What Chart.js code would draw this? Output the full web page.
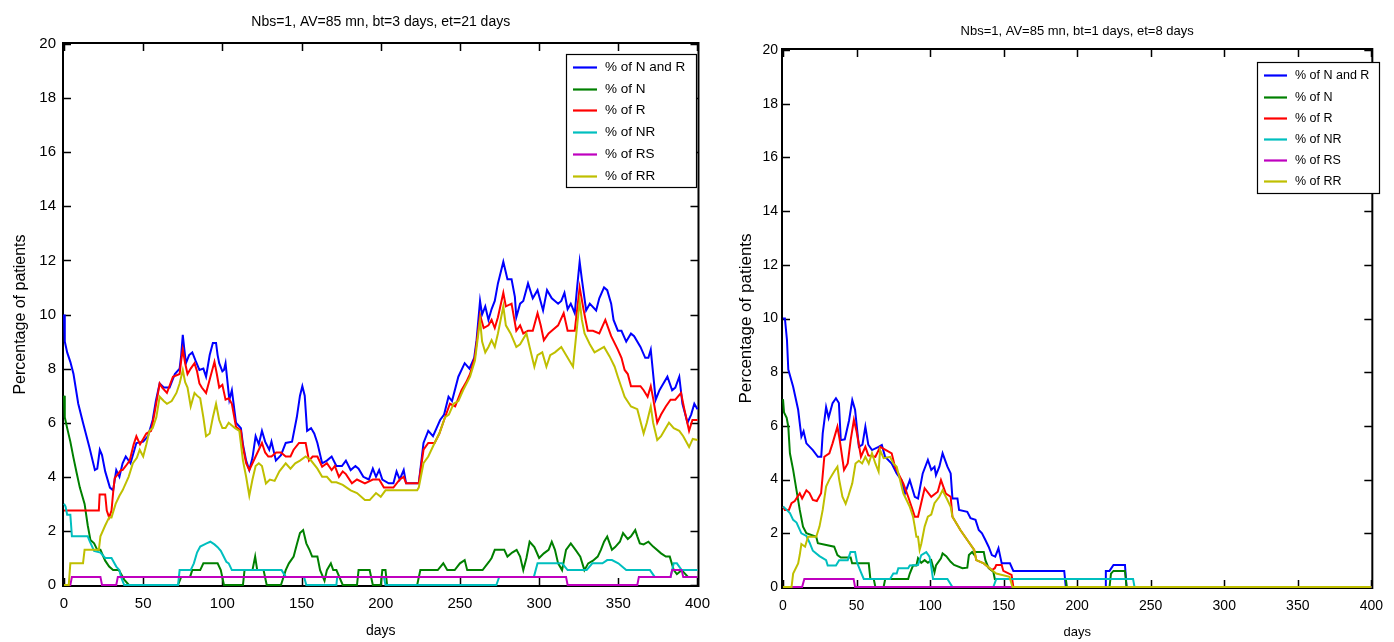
<!DOCTYPE html>
<html><head><meta charset="utf-8">
<script src="https://cdn.jsdelivr.net/npm/chart.js@4.4.1/dist/chart.umd.min.js"></script>
<style>
html,body{margin:0;padding:0;background:#fff;width:1394px;height:642px;overflow:hidden}
#c1{position:absolute;left:0;top:0}
#c2{position:absolute;left:720px;top:0}
</style></head><body>
<canvas id="c1" width="720" height="642"></canvas>
<canvas id="c2" width="674" height="642"></canvas>
<script>
// ---------- labels ----------
const seriesLabels = ['% of N and R', '% of N', '% of R', '% of NR', '% of RS', '% of RR'];
const seriesColors = ['#0000ff', '#008000', '#ff0000', '#00bfbf', '#bf00bf', '#bfbf00'];
const titleLeft = 'Nbs=1, AV=85 mn, bt=3 days, et=21 days';
const titleRight = 'Nbs=1, AV=85 mn, bt=1 days, et=8 days';
const xLabel = 'days';
const yLabel = 'Percentage of patients';
const xTicks = [0, 50, 100, 150, 200, 250, 300, 350, 400];
const yTicks = [0, 2, 4, 6, 8, 10, 12, 14, 16, 18, 20];

// ---------- left chart data: [day, percent] ----------
const leftNandR = [[0,10],[0.5,9],[2,8.6],[4,8.25],[6,7.8],[9,6.7],[12,6.0],[16,5.1],[19.5,4.25],[21,4.3],[22.6,5.0],[24,4.8],[26,4.2],[29,3.6],[31,3.5],[33,4.25],[35,4.0],[37,4.5],[39,4.75],[42,4.5],[45.7,5.25],[50,5.3],[53,5.5],[56,6.1],[58,6.8],[60.4,7.45],[63,7.3],[66.7,7.3],[70,7.8],[73,8.0],[74,8.5],[75,9.25],[76,8.7],[77,8.2],[79,8.5],[81,8.6],[83,8.3],[85.5,7.95],[88,8.0],[89.7,7.7],[92,8.5],[94,8.95],[96,8.95],[97,8.5],[98,8.2],[100,7.9],[101,7.95],[102,8.2],[104.4,6.85],[106,7.2],[108.6,6.0],[111.7,5.8],[113,5.2],[115,4.6],[117,4.25],[119,4.7],[121,5.5],[123,5.2],[125,5.7],[127,5.3],[129.6,5.0],[131,5.3],[133.8,4.6],[137,4.8],[140,5.25],[144,5.3],[147,6.2],[149,7.0],[150.5,7.35],[152,7.0],[153.5,5.7],[156,5.8],[158,5.6],[160,5.25],[163,4.5],[166,4.6],[169,4.75],[172,4.4],[175.5,4.4],[178,4.6],[181,4.25],[184,4.4],[186,4.3],[189,4.0],[192.5,3.9],[195,4.3],[197,4.0],[199,4.25],[201,3.9],[205,3.76],[208,3.76],[210,4.2],[212,3.9],[214.5,4.25],[216,3.76],[224,3.76],[227,5.25],[230,5.7],[233,5.5],[237.5,6.1],[240,6.3],[242.8,6.96],[245,6.8],[249,7.7],[253,8.2],[256,8.0],[259,8.4],[260.5,9.05],[262.7,10.5],[264,10.0],[266,10.3],[268,9.8],[270,10.2],[272,10.5],[274,11.15],[277.4,11.95],[280,11.3],[282.6,11.3],[284.7,10.65],[285.6,9.9],[288,10.4],[290,10.5],[293,11.15],[296,10.6],[299,10.9],[302.5,10.15],[305,10.9],[308,10.6],[310,10.5],[312,10.4],[314,10.5],[316,10.8],[318,10.2],[320,10.4],[322.5,10.05],[324,11.0],[325.6,11.95],[327,11.3],[329.7,10.15],[332,10.4],[336,10.15],[338,10.6],[341,11.0],[343,10.9],[345.5,10.4],[347,9.8],[349.7,9.4],[352,9.4],[355,9.0],[358,9.3],[360,9.2],[364,8.8],[367,8.4],[369,8.4],[370.5,8.7],[373.6,6.85],[376,7.2],[378,7.4],[381,7.7],[384,7.2],[386,7.3],[388.5,7.7],[390.5,6.7],[393.7,6.0],[396,6.3],[398,6.7],[400,6.5]];
const leftN = [[0,7],[0.5,6.2],[2,5.8],[4,5.3],[6,4.7],[8,4.14],[10,3.6],[13,3.0],[15,2.2],[16.7,1.66],[19,1.54],[21,1.3],[23,1.3],[26,0.9],[28.5,0.68],[31,0.55],[34.6,0.55],[38,0.2],[41,0],[72,0],[74,0.3],[79.6,0.3],[81,0.55],[86,0.55],[88,0.8],[92.4,0.8],[97,0.8],[99,0.55],[101,0],[113,0],[114,0.55],[119,0.55],[120.7,1.05],[122,0.55],[126,0.55],[128,0],[137,0],[140,0.55],[142,0.8],[145,1.05],[147,1.5],[149,1.92],[151,2.03],[153,1.54],[155,1.3],[156.7,1.05],[160,1.05],[161.7,0.55],[164.5,0.16],[166,0.55],[168.5,0.8],[170,0.55],[172,0.55],[176,0],[185,0],[186,0.55],[193,0.55],[195,0],[200,0],[201,0.55],[203,0.55],[204,0],[223,0],[225,0.55],[236,0.55],[239.5,0.8],[242,0.55],[246.7,0.55],[250,0.8],[253,0.92],[254.6,0.55],[264.3,0.55],[268.4,0.86],[270,1.0],[272,1.3],[278,1.3],[280,1.05],[283,1.2],[285.8,1.3],[288,1.05],[290,0.55],[292,1.0],[294,1.6],[297,1.4],[300,1.0],[303,1.17],[306,1.3],[308,1.6],[310,1.3],[312,0.8],[314.5,0.55],[317,1.3],[320,1.54],[323,1.3],[326,1.05],[328.6,0.55],[331,0.8],[334,0.9],[337,1.05],[339,1.3],[341,1.6],[343,1.79],[346,1.3],[348,1.4],[351,1.6],[353,1.92],[356,1.7],[358,1.8],[360.7,2.03],[362,1.8],[363.6,1.54],[366,1.5],[369,1.6],[372,1.42],[377,1.17],[380,1.05],[382.5,1.05],[385,0.55],[387,0.4],[390,0.55],[394,0.3],[400,0.3]];
const leftR = [[0,2.75],[12,2.75],[22,2.75],[22.5,3.35],[26,3.35],[27,2.75],[28.5,2.5],[30,2.75],[31,3.4],[32,3.95],[34,4.1],[36,4.25],[37,4.25],[39,4.4],[41.5,4.6],[44,5.2],[45.7,5.5],[48,5.2],[50,5.4],[52,5.6],[55,5.7],[57,6.3],[60.4,7.45],[62,7.3],[65,7.1],[68.8,7.7],[73,7.8],[74,8.3],[75,8.7],[76.5,8.2],[78,7.8],[80,8.0],[82.4,8.2],[84,7.9],[85.5,7.45],[87,7.3],[89.7,7.1],[92,7.6],[95,8.25],[96.5,7.8],[98,7.3],[100,7.4],[102,6.85],[104,6.9],[106,6.7],[108.6,5.85],[111.7,5.7],[113,5.1],[115,4.5],[117,4.25],[119,4.5],[121,4.75],[123,5.0],[125,5.25],[127,4.9],[129,4.75],[131,4.75],[134,4.9],[137,4.9],[140,4.75],[143,4.75],[145,5.0],[148.4,5.25],[152.6,5.25],[154.7,4.6],[157,4.75],[160,4.75],[163,4.37],[166,4.5],[169,4.25],[171,4.4],[173.6,4.0],[176,4.2],[178,4.1],[181.8,3.76],[185,3.9],[190,3.76],[195,3.9],[199,3.9],[202,3.6],[208,3.6],[212,3.9],[214.5,4.0],[216,3.76],[224,3.76],[227,5.0],[230,5.25],[234,5.25],[237,5.6],[240.6,6.2],[243.7,6.7],[247,6.6],[251,7.2],[254,7.5],[256.4,7.8],[259.5,8.45],[262.7,9.98],[265,9.5],[268,9.6],[270,9.8],[272,9.5],[274,9.9],[277.4,10.8],[279,10.3],[282.6,10.4],[285.6,9.4],[288,9.6],[290,9.3],[293,9.4],[296,9.4],[299,10.05],[301,9.6],[303,9.05],[306,9.3],[308,9.4],[312,9.6],[315.5,10.05],[318,9.4],[322.5,9.4],[325.6,11.0],[328,10.2],[330.7,9.4],[334,9.4],[338,9.3],[341.8,9.8],[345.5,9.2],[349.7,8.7],[352,8.4],[354,7.95],[356,7.8],[358,7.35],[364,7.35],[366,7.2],[368.5,6.96],[370.5,7.35],[372,6.9],[374.6,6.0],[377,6.3],[380,6.6],[383,6.85],[386,6.85],[389.6,7.1],[391.7,6.5],[394.7,5.7],[396.8,6.1],[400,6.1]];
const leftNR = [[0,3],[1,2.9],[2,2.6],[4,2.6],[5,1.8],[15,1.8],[16,1.65],[19,1.26],[23,1.2],[26,1.0],[30,1.0],[33,0.68],[35,0.55],[36,0.3],[38,0],[72,0],[73,0.55],[80,0.55],[82,0.8],[84,1.2],[86,1.42],[90,1.54],[92.4,1.6],[95,1.5],[97,1.4],[99,1.26],[102.5,0.86],[104,0.8],[106,0.55],[137.4,0.55],[140,0.3],[151.6,0.3],[153,0],[172,0],[172.5,0.3],[202,0.3],[203,0],[273,0],[274.8,0.3],[296.7,0.3],[299,0.8],[314.5,0.8],[318,0.55],[330,0.55],[333.6,0.8],[340,0.8],[343,0.92],[346,0.92],[350,0.8],[355,0.55],[370,0.55],[373,0.3],[383,0.3],[385,0.8],[387,0.8],[390,0.55],[400,0.55]];
const leftRS = [[0,0],[4,0],[5,0.3],[23,0.3],[24,0],[33,0],[34,0.3],[317,0.3],[318,0],[362,0],[363,0.3],[383,0.3],[384,0.55],[390,0.55],[391,0.3],[400,0.3]];
const leftRR = [[0,0],[3,0],[4,0.8],[12,0.8],[13,1.3],[22,1.3],[23,1.8],[26,2.2],[28.5,2.5],[30,2.5],[32.6,3.0],[35,3.3],[37,3.5],[40.8,4.0],[43.5,4.5],[46,4.7],[47.8,5.0],[50,4.75],[52,5.2],[54,5.7],[56,5.8],[58.3,6.2],[60.4,6.96],[63,6.8],[65,6.7],[68,6.8],[71,7.1],[73,7.45],[75,7.95],[76.5,7.5],[78,7.3],[80,6.6],[82.4,7.1],[84,7.0],[86,6.9],[88,6.2],[89.7,5.5],[92,5.6],[94,6.2],[96,6.7],[98,6.1],[100,5.8],[102,5.8],[104,6.0],[106,5.9],[108,5.8],[110.7,5.7],[113,4.6],[115,4.0],[117,3.3],[119,3.9],[121,4.4],[123,4.5],[125,4.4],[127.5,3.75],[130,3.9],[133,3.85],[136,4.2],[140,4.5],[143,4.3],[146,4.5],[149,4.6],[152.6,4.75],[156,4.6],[160,4.3],[163,4.0],[166,4.0],[169,3.8],[172,3.8],[176,3.7],[181,3.5],[185,3.4],[190,3.14],[193,3.14],[197,3.4],[200,3.26],[203,3.5],[223,3.5],[224,3.6],[227,4.5],[230,4.75],[234,5.25],[237,5.6],[240.6,6.2],[243,6.3],[246,6.7],[249,6.8],[252,7.2],[256.4,7.7],[259.5,8.3],[262.7,9.8],[264,9.0],[266,8.6],[268,8.8],[270,9.05],[272,8.8],[274,9.3],[277.4,10.3],[279,9.6],[282,9.3],[285.6,8.8],[288,8.9],[292,9.3],[294,8.8],[297,8.07],[299,8.5],[302,8.6],[304.6,8.07],[307,8.5],[310,8.6],[314,8.8],[317,8.5],[321.4,8.07],[323,9.0],[325.6,10.5],[327,9.8],[328.7,9.3],[332,8.9],[335,8.6],[338,8.7],[341,8.8],[344.5,8.45],[347.7,8.07],[349.7,7.7],[352,7.3],[354,6.96],[358,6.6],[362,6.5],[366,5.6],[368,6.0],[370.5,6.6],[372,6.0],[374.6,5.36],[377,5.5],[380,5.8],[382,6.0],[385,5.8],[388.5,5.7],[391,5.5],[394.7,5.1],[397,5.4],[400,5.36]];

// ---------- right chart data: [day, percent] ----------
const rightNandR = [[0,10],[1.3,10.0],[2.7,9.2],[3.6,8.1],[6.9,7.46],[10.3,6.6],[12.5,5.6],[14,5.8],[15.9,5.35],[20.3,5.1],[23.7,4.85],[26,4.85],[27,5.72],[29.3,6.7],[31,6.3],[33.7,6.85],[36,7.03],[38,6.85],[39.3,5.47],[42,5.5],[44.9,6.2],[47.1,6.96],[49,6.6],[51.6,5.22],[54,5.3],[56,5.97],[58,5.3],[60.5,5.1],[65,5.22],[67.2,5.29],[69.4,4.85],[73.9,4.6],[77.3,4.23],[80.6,3.98],[82.9,3.48],[86.2,3.98],[89.6,3.36],[91.8,3.3],[95,4.23],[98.5,4.73],[100.8,4.36],[103,4.48],[104,4.17],[106.3,4.48],[108.5,4.98],[111.8,4.48],[114,4.23],[115.2,3.3],[118.6,3.3],[119.7,2.87],[125.3,2.8],[127.5,2.56],[130.9,2.5],[133.1,2.12],[135.3,2.0],[137.6,1.75],[139.8,1.5],[142,1.19],[144.3,1.13],[146.5,1.44],[148.7,0.88],[154.3,0.88],[156.6,0.6],[191.2,0.6],[192.3,0],[219,0],[219.5,0.6],[222,0.6],[224.7,0.82],[232.5,0.82],[233.6,0],[400,0]];
const rightN = [[0,7],[0.7,6.5],[2.5,6.3],[3.6,5.97],[4.7,4.98],[6.9,4.36],[9.2,3.6],[11.4,2.87],[13.6,2.25],[15.9,2.0],[22.6,1.87],[23.7,1.63],[34.8,1.5],[37,1.19],[39.3,1.1],[46,1.1],[47,0.88],[58.3,0.88],[59.4,0.3],[61.7,0.3],[62.8,0],[68.4,0],[69.5,0.3],[85.1,0.3],[86.2,0.5],[88.4,0.8],[90.7,0.8],[91.8,1.07],[94,0.9],[96.3,1.0],[98.5,0.9],[100.8,1.0],[103,0.55],[104,0.8],[107.4,1.07],[108.5,1.25],[111,1.15],[114,0.94],[116.3,0.82],[122,0.7],[125.3,0.72],[126.4,1.19],[128.6,1.3],[130,1.2],[131,1.3],[136.5,1.3],[137.6,1.0],[139.8,0.7],[143,0.57],[144,0.3],[192.3,0.3],[193,0],[222,0],[223,0.5],[224.7,0.6],[232.5,0.6],[233.6,0],[400,0]];
const rightR = [[0,3],[1.3,2.87],[4,2.87],[5.8,3.12],[8,3.2],[11.4,3.49],[13,3.3],[15.9,3.6],[18,3.5],[20.3,3.24],[23,3.2],[25.9,3.49],[28.1,4.85],[31.5,4.98],[33.7,5.35],[37,5.97],[38.5,5.5],[41.5,4.36],[44,4.6],[46,5.47],[48.2,6.22],[50,5.8],[53,4.85],[56,5.22],[58,4.9],[62.8,4.85],[66.1,5.22],[70,5.1],[73.9,4.98],[76.1,4.48],[78.4,4.23],[81.8,3.86],[85.1,3.36],[87.4,2.99],[89.6,2.62],[91.8,2.62],[96.3,3.68],[100.8,3.36],[105.2,3.55],[107.4,3.98],[110.7,3.48],[114,3.36],[115.2,2.62],[120.6,2.12],[125.3,1.75],[130,1.38],[131.4,1.0],[136.5,0.88],[142,0.63],[144,0.7],[145,0.82],[148.7,0.82],[149.8,0.6],[155.4,0.45],[156.6,0],[400,0]];
const rightNR = [[0,3],[2,2.9],[4.7,2.75],[6.9,2.5],[9.2,2.4],[12.5,2.0],[15.9,1.9],[18.1,1.65],[20.3,1.35],[24.8,1.15],[29.3,1.0],[30.4,0.8],[36,0.8],[38.2,1.0],[44,1.0],[45.9,1.3],[49,1.3],[50.4,0.9],[52.6,0.6],[54.9,0.3],[72.8,0.3],[75,0.5],[77.3,0.5],[78.4,0.7],[85.1,0.7],[86.2,0.8],[91.8,0.82],[94,1.19],[97.4,1.3],[99.6,1.13],[100.8,0.76],[102,0.3],[111.8,0.3],[115.2,0],[143,0],[145,0.3],[238,0.3],[239,0],[400,0]];
const rightRS = [[0,0],[13,0],[14.5,0.3],[48,0.3],[49,0],[400,0]];
const rightRR = [[0,0],[5.8,0],[6.9,0.5],[10.3,0.88],[11.4,1.2],[12.5,1.6],[15,1.5],[17,1.87],[22.6,1.87],[24.8,2.25],[27,2.87],[29.3,3.74],[31.5,4.0],[34.8,4.3],[37,4.48],[38.2,4.0],[40.4,3.36],[42.6,3.1],[44.5,3.4],[47.1,3.86],[49.3,4.6],[51.6,4.7],[53.8,4.6],[56,4.85],[58.3,4.6],[60.5,4.98],[62.8,4.6],[65,4.3],[66,5.1],[68.4,4.8],[72.8,4.85],[75,4.6],[77.3,4.48],[79.5,4.0],[81.8,3.49],[84,3.24],[86.2,2.99],[88.4,2.62],[89.6,2.25],[90.7,1.87],[91.8,1.87],[92.9,1.38],[94,1.6],[96.3,2.25],[98.5,2.62],[100.8,2.7],[103,3.12],[106.3,3.36],[108.5,3.6],[111.8,3.24],[114,2.99],[115.2,2.62],[120.6,2.12],[125.3,1.75],[130,1.38],[131.4,1.0],[136.5,0.88],[142,0.63],[145,0.5],[154,0.38],[156,0],[400,0]];

// ---------- plugins ----------
const frame = {
  id: 'frame',
  beforeDatasetsDraw(chart, args, o) {
    const {ctx, chartArea: a, scales: {x, y}} = chart;
    const L = a.left - 1, R = a.right + 1, T = a.top - 1, B = a.bottom + 1;
    ctx.save();
    ctx.strokeStyle = '#000';
    ctx.lineWidth = 2;
    ctx.strokeRect(L, T, R - L, B - T);
    ctx.lineWidth = 1.5;
    ctx.beginPath();
    const tl = o.tick;
    xTicks.forEach(v => {
      const px = Math.round(x.getPixelForValue(v)) + 0.5;
      ctx.moveTo(px, B); ctx.lineTo(px, B - tl);
      ctx.moveTo(px, T); ctx.lineTo(px, T + tl);
    });
    yTicks.forEach(v => {
      const py = Math.round(y.getPixelForValue(v)) + 0.5;
      ctx.moveTo(L, py); ctx.lineTo(L + tl, py);
      ctx.moveTo(R, py); ctx.lineTo(R - tl, py);
    });
    ctx.stroke();
    ctx.restore();
  }
};
const boxLegend = {
  id: 'boxLegend',
  afterDatasetsDraw(chart, args, o) {
    const ctx = chart.ctx;
    ctx.save();
    ctx.fillStyle = '#fff';
    ctx.fillRect(o.x, o.y, o.w, o.h);
    ctx.strokeStyle = '#000';
    ctx.lineWidth = 1.2;
    ctx.strokeRect(o.x + 0.5, o.y + 0.5, o.w, o.h);
    ctx.font = o.font;
    ctx.textBaseline = 'middle';
    ctx.textAlign = 'left';
    chart.data.datasets.forEach((ds, i) => {
      const cy = Math.round(o.y + o.first + i * o.row) + 0.5;
      ctx.strokeStyle = ds.borderColor;
      ctx.lineWidth = 2.2;
      ctx.beginPath();
      ctx.moveTo(o.x + o.l0, cy);
      ctx.lineTo(o.x + o.l1, cy);
      ctx.stroke();
      ctx.fillStyle = '#000';
      ctx.fillText(ds.label, o.x + o.tx, cy);
    });
    ctx.restore();
  }
};

const FONT = "'Liberation Sans', Arial, sans-serif";
const drawOrder = [5, 4, 3, 2, 1, 0];

function makeChart(id, seriesList, cfg) {
  const datasets = seriesList.map((s, i) => ({
    label: seriesLabels[i],
    data: s.map(([d, v]) => ({x: d, y: v})),
    borderColor: seriesColors[i],
    backgroundColor: seriesColors[i],
    borderWidth: 2,
    pointRadius: 0,
    tension: 0,
    fill: false,
    clip: 6,
    order: drawOrder[i]
  }));
  return new Chart(document.getElementById(id), {
    type: 'line',
    data: {datasets},
    plugins: [frame, boxLegend],
    options: {
      responsive: false,
      animation: false,
      devicePixelRatio: 1,
      layout: {padding: {left: 0, right: cfg.padRight, top: 0, bottom: 0}},
      plugins: {
        legend: {display: false},
        tooltip: {enabled: false},
        title: {
          display: true, text: cfg.title, fullSize: false, color: '#000',
          font: {family: FONT, size: cfg.titleSize, weight: 'normal', lineHeight: 1.2},
          padding: {top: cfg.titlePadTop, bottom: cfg.titlePadBottom}
        },
        frame: {tick: 8},
        boxLegend: cfg.legend
      },
      scales: {
        x: {
          type: 'linear', min: 0, max: 400,
          afterBuildTicks: s => { s.ticks = xTicks.map(v => ({value: v})); },
          afterFit: s => { s.height = cfg.xAxisH; },
          grid: {display: false, drawTicks: false},
          border: {display: false},
          ticks: {color: '#000', padding: cfg.xTickPad, maxRotation: 0, font: {family: FONT, size: cfg.tickSize}},
          title: {display: true, text: xLabel, color: '#000', padding: {top: 0, bottom: cfg.xTitlePad},
                  font: {family: FONT, size: cfg.titleSize, lineHeight: 1.2}}
        },
        y: {
          type: 'linear', min: 0, max: 20,
          afterBuildTicks: s => { s.ticks = yTicks.map(v => ({value: v})); },
          afterFit: s => { s.width = cfg.yAxisW; },
          grid: {display: false, drawTicks: false},
          border: {display: false},
          ticks: {color: '#000', padding: cfg.yTickPad, font: {family: FONT, size: cfg.tickSize}},
          title: {display: true, text: yLabel, color: '#000', padding: {top: cfg.yTitlePad, bottom: 0},
                  font: {family: FONT, size: cfg.yTitleSize, lineHeight: 1.2}}
        }
      }
    }
  });
}

makeChart('c1', [leftNandR, leftN, leftR, leftNR, leftRS, leftRR], {
  title: titleLeft, titleSize: 14, titlePadTop: 13.6, titlePadBottom: 13.6,
  padRight: 20, xAxisH: 57, yAxisW: 64, tickSize: 15, xTickPad: 10, yTickPad: 8,
  xTitlePad: 2, yTitlePad: 11.4, yTitleSize: 16,
  legend: {x: 566, y: 54, w: 130, h: 133, first: 12.7, row: 21.8, l0: 7, l1: 31, tx: 39,
           font: "13.5px " + FONT}
});
makeChart('c2', [rightNandR, rightN, rightR, rightNR, rightRS, rightRR], {
  title: titleRight, titleSize: 13, titlePadTop: 24, titlePadBottom: 10.4,
  padRight: 14, xAxisH: 55, yAxisW: 63, tickSize: 14, xTickPad: 11, yTickPad: 5,
  xTitlePad: 1.5, yTitlePad: 15.8, yTitleSize: 17,
  legend: {x: 537, y: 62, w: 122, h: 131, first: 13.3, row: 21.2, l0: 7, l1: 30, tx: 38,
           font: "12.5px " + FONT}
});
</script>
</body></html>
